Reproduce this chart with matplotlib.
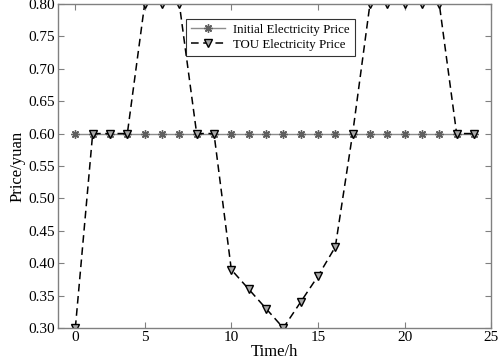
import numpy as np
import matplotlib.pyplot as plt

# hourly prices (yuan), hours 1..24
hours = list(range(1, 25))
initial_price = [0.60] * 24
tou_price = [0.30, 0.60, 0.60, 0.60, 0.80, 0.80, 0.80, 0.60, 0.60, 0.39,
             0.36, 0.33, 0.30, 0.34, 0.38, 0.425, 0.60, 0.80, 0.80, 0.80,
             0.80, 0.80, 0.60, 0.60]
xtick_pos = [1, 5, 10, 15, 20, 25]
xtick_labels = ['0', '5', '10', '15', '20', '25']

plt.rcParams['font.family'] = ['Liberation Serif', 'DejaVu Serif']

fig = plt.figure(figsize=(4.98, 3.6), dpi=100)
ax = fig.add_axes([0.1165, 0.089, 0.870, 0.900])

ax.plot(hours, initial_price, color='#8c8c8c', linewidth=1.0, marker=(8, 2, 0),
        markersize=6, markerfacecolor='#606060', markeredgecolor='#606060',
        markeredgewidth=1.0, label='Initial Electricity Price')
ax.plot(hours, tou_price, color='black', linestyle=(0, (5, 3)), linewidth=1.1,
        marker='v', markersize=5.5, markerfacecolor='#a8a8a8',
        markeredgecolor='black', markeredgewidth=1.0,
        label='TOU Electricity Price')

ax.set_xlim(0, 25)
ax.set_ylim(0.30, 0.80)
ax.set_xticks(xtick_pos)
ax.set_xticklabels(xtick_labels)
ax.set_yticks(np.arange(0.30, 0.801, 0.05))
ax.set_yticklabels([f'{v:.2f}' for v in np.arange(0.30, 0.801, 0.05)])
ax.tick_params(direction='in', top=True, right=True, labelsize=11,
               color='#808080', length=4, pad=2)
for s in ax.spines.values():
    s.set_color('#808080')
    s.set_linewidth(1.0)

ax.set_xlabel('Time/h', fontsize=12, labelpad=0)
ax.set_ylabel('Price/yuan', fontsize=12, labelpad=2)

leg = ax.legend(loc='upper left', bbox_to_anchor=(0.296, 0.955), fontsize=9.3,
                frameon=True, fancybox=False, edgecolor='black',
                borderpad=0.4, labelspacing=0.25, handlelength=2.6,
                handletextpad=0.6, borderaxespad=0)
leg.get_frame().set_linewidth(0.8)

fig.savefig('out.png', dpi=100)
